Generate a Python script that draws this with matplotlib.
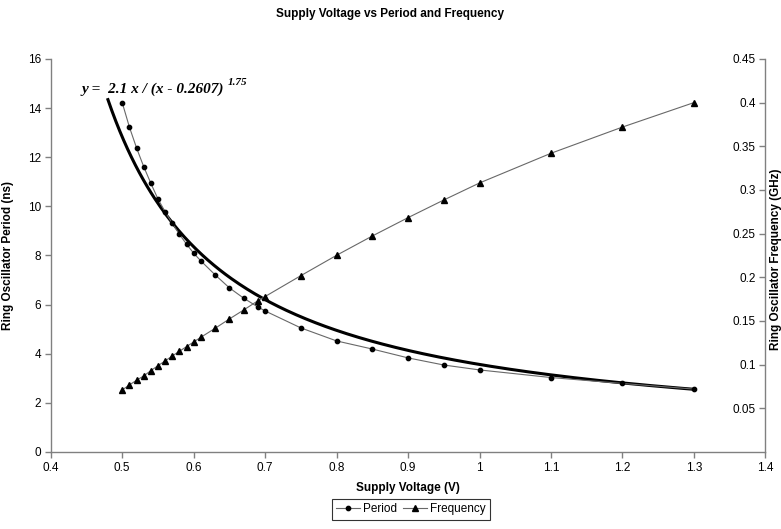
import numpy as np
import matplotlib
matplotlib.use("Agg")
import matplotlib.pyplot as plt

plt.rcParams['font.family'] = ['Liberation Sans', 'DejaVu Sans']

# --- data ---
voltage = [0.50, 0.51, 0.52, 0.53, 0.54, 0.55, 0.56, 0.57, 0.58, 0.59, 0.60, 0.61,
           0.63, 0.65, 0.67, 0.69, 0.70, 0.75, 0.80, 0.85, 0.90, 0.95, 1.00,
           1.10, 1.20, 1.30]
period_ns = [14.22, 13.23, 12.38, 11.62, 10.94, 10.30, 9.78, 9.31, 8.86, 8.46, 8.09, 7.78,
             7.21, 6.68, 6.26, 5.90, 5.74, 5.05, 4.52, 4.19, 3.83, 3.54, 3.34,
             3.03, 2.79, 2.56]
freq_ghz = [0.0710, 0.0767, 0.0821, 0.0870, 0.0931, 0.0988, 0.1042, 0.1099, 0.1153,
            0.1206, 0.1260, 0.1313, 0.1416, 0.1523, 0.1626, 0.1732, 0.1780, 0.2019,
            0.2252, 0.2473, 0.2683, 0.2885, 0.3080, 0.3420, 0.3720, 0.4000]

# trendline shown on the chart: y = 2.1 x / (x - 0.2607)^1.75
fit_a = 2.1
fit_c = 0.2607
fit_p = 1.75
fit_range = (0.48, 1.30)

x_ticks = [0.4, 0.5, 0.6, 0.7, 0.8, 0.9, 1.0, 1.1, 1.2, 1.3, 1.4]
x_ticklabels = ['0.4', '0.5', '0.6', '0.7', '0.8', '0.9', '1', '1.1', '1.2', '1.3', '1.4']
y_ticks = [0, 2, 4, 6, 8, 10, 12, 14, 16]
y2_ticks = [0.05, 0.1, 0.15, 0.2, 0.25, 0.3, 0.35, 0.4, 0.45]
y2_ticklabels = ['0.05', '0.1', '0.15', '0.2', '0.25', '0.3', '0.35', '0.4', '0.45']

fig = plt.figure(figsize=(7.81, 5.29), dpi=100)
ax = fig.add_axes([0.065, 0.1456, 0.915, 0.743])
ax2 = ax.twinx()

axis_grey = '#808080'
line_grey = '#686868'

fx = np.linspace(fit_range[0], fit_range[1], 300)
fy = fit_a * fx / (fx - fit_c) ** fit_p
ax.plot(fx, fy, color='black', lw=2.2, zorder=2)

ln1, = ax.plot(voltage, period_ns, color=line_grey, lw=0.8, marker='o', ms=3.1,
               mfc='black', mec='black', label='Period', zorder=3)
ln2, = ax2.plot(voltage, freq_ghz, color=line_grey, lw=0.8, marker='^', ms=4.0,
                mfc='black', mec='black', label='Frequency', zorder=3)

ax.set_xlim(0.4, 1.4)
ax.set_ylim(0, 16)
ax2.set_ylim(0, 0.45)

ax.set_xticks(x_ticks)
ax.set_xticklabels(x_ticklabels)
ax.set_yticks(y_ticks)
ax.set_yticklabels([str(v) for v in y_ticks])
ax2.set_yticks(y2_ticks)
ax2.set_yticklabels(y2_ticklabels)

for a in (ax, ax2):
    a.spines['top'].set_visible(False)
    for s in ('left', 'right', 'bottom'):
        a.spines[s].set_color(axis_grey)
        a.spines[s].set_linewidth(1.0)

ax.spines['right'].set_visible(False)
ax2.spines['left'].set_visible(False)
ax2.spines['bottom'].set_visible(False)

ax.tick_params(axis='both', direction='out', length=4, width=1, color=axis_grey,
               labelsize=8.5, pad=3)
ax2.tick_params(axis='y', direction='in', length=4, width=1, color=axis_grey,
                labelsize=8.5, pad=-7)
for lbl in ax2.get_yticklabels():
    lbl.set_horizontalalignment('right')

ax.set_xlabel('Supply Voltage (V)', fontsize=8.5, fontweight='bold', labelpad=6)
ax.set_ylabel('Ring Oscillator Period (ns)', fontsize=8.5, fontweight='bold', labelpad=10)
fig.text(0.994, 0.51, 'Ring Oscillator Frequency (GHz)', rotation=90, fontsize=8.5,
         fontweight='bold', ha='center', va='center')

fig.suptitle('Supply Voltage vs Period and Frequency', fontsize=8.5, fontweight='bold',
             y=0.985, x=0.5)

eq = ax.text(0.443, 14.75, 'y =  2.1 x / (x - 0.2607)', family=['Liberation Serif'],
             fontsize=11, fontweight='bold', fontstyle='italic', ha='left', va='center')
ax.annotate('1.75', xy=(1.0, 1.0), xycoords=eq, xytext=(3, 0), textcoords='offset points',
            family=['Liberation Serif'], fontsize=8, fontweight='bold', fontstyle='italic',
            ha='left', va='center')

leg = fig.legend(handles=[ln1, ln2], loc='center', bbox_to_anchor=(0.526, 0.037), ncol=2,
                 fontsize=8.5, frameon=True, fancybox=False, handlelength=2.0,
                 handletextpad=0.3, columnspacing=0.5, borderpad=0.35)
leg.get_frame().set_edgecolor('black')
leg.get_frame().set_linewidth(0.8)

fig.savefig('out.png', dpi=100)
